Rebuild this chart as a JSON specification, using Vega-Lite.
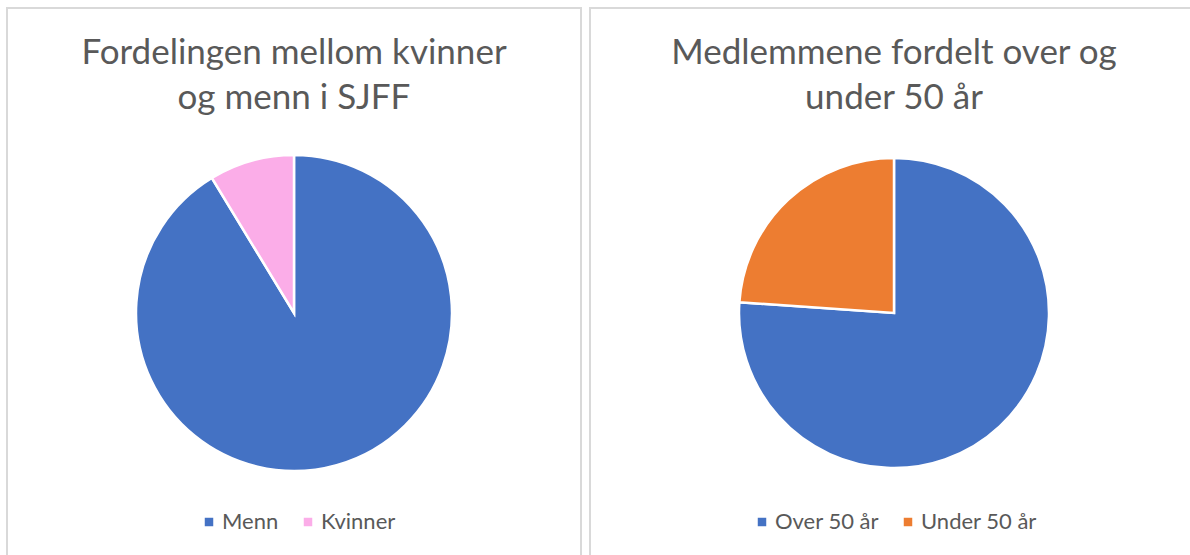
{
  "$schema": "https://vega.github.io/schema/vega-lite/v6.json",
  "padding": {"left": 6, "top": 7, "right": 0, "bottom": 0},
  "background": "white",
  "spacing": 7,
  "config": {
    "view": {"stroke": null},
    "font": "Lato",
    "title": {"fontSize": 35, "fontWeight": "normal", "color": "#595959", "lineHeight": 45, "anchor": "middle", "offset": -109},
    "legend": {"orient": "none", "direction": "horizontal", "padding": 0, "labelFontSize": 22, "labelFont": "Lato", "labelColor": "#595959", "symbolType": "square", "symbolSize": 72, "symbolStrokeWidth": 0, "columnPadding": 18, "labelOffset": 2}
  },
  "resolve": {"scale": {"color": "independent", "theta": "independent"}, "legend": {"color": "independent"}},
  "hconcat": [
    {
      "width": 574,
      "height": 610,
      "data": {"values": [
        {"gruppe": "Menn", "andel": 91.3, "rekkefolge": 1},
        {"gruppe": "Kvinner", "andel": 8.7, "rekkefolge": 2}
      ]},
      "title": {"text": ["Fordelingen mellom kvinner", "og menn i SJFF"]},
      "layer": [
        {
          "mark": {"type": "rect", "filled": false, "stroke": "#d9d9d9", "strokeWidth": 2},
          "encoding": {}
        },
        {
          "mark": {"type": "arc", "outerRadius": 158, "stroke": "white", "strokeWidth": 2.5},
          "encoding": {
            "theta": {"field": "andel", "type": "quantitative", "stack": true},
            "order": {"field": "rekkefolge", "type": "quantitative"},
            "color": {"field": "gruppe", "type": "nominal", "scale": {"domain": ["Menn", "Kvinner"], "range": ["#4472C4", "#FBADE8"]}, "legend": {"title": null, "legendX": 191, "legendY": 503}}
          }
        }
      ]
    },
    {
      "width": 608,
      "height": 610,
      "data": {"values": [
        {"gruppe": "Over 50 år", "andel": 76.1, "rekkefolge": 1},
        {"gruppe": "Under 50 år", "andel": 23.9, "rekkefolge": 2}
      ]},
      "title": {"text": ["Medlemmene fordelt over og", "under 50 år"]},
      "layer": [
        {
          "mark": {"type": "rect", "filled": false, "stroke": "#d9d9d9", "strokeWidth": 2},
          "encoding": {}
        },
        {
          "mark": {"type": "arc", "outerRadius": 155, "stroke": "white", "strokeWidth": 2.5},
          "encoding": {
            "theta": {"field": "andel", "type": "quantitative", "stack": true},
            "order": {"field": "rekkefolge", "type": "quantitative"},
            "color": {"field": "gruppe", "type": "nominal", "scale": {"domain": ["Over 50 år", "Under 50 år"], "range": ["#4472C4", "#ED7D31"]}, "legend": {"title": null, "legendX": 161, "legendY": 503}}
          }
        }
      ]
    }
  ]
}
